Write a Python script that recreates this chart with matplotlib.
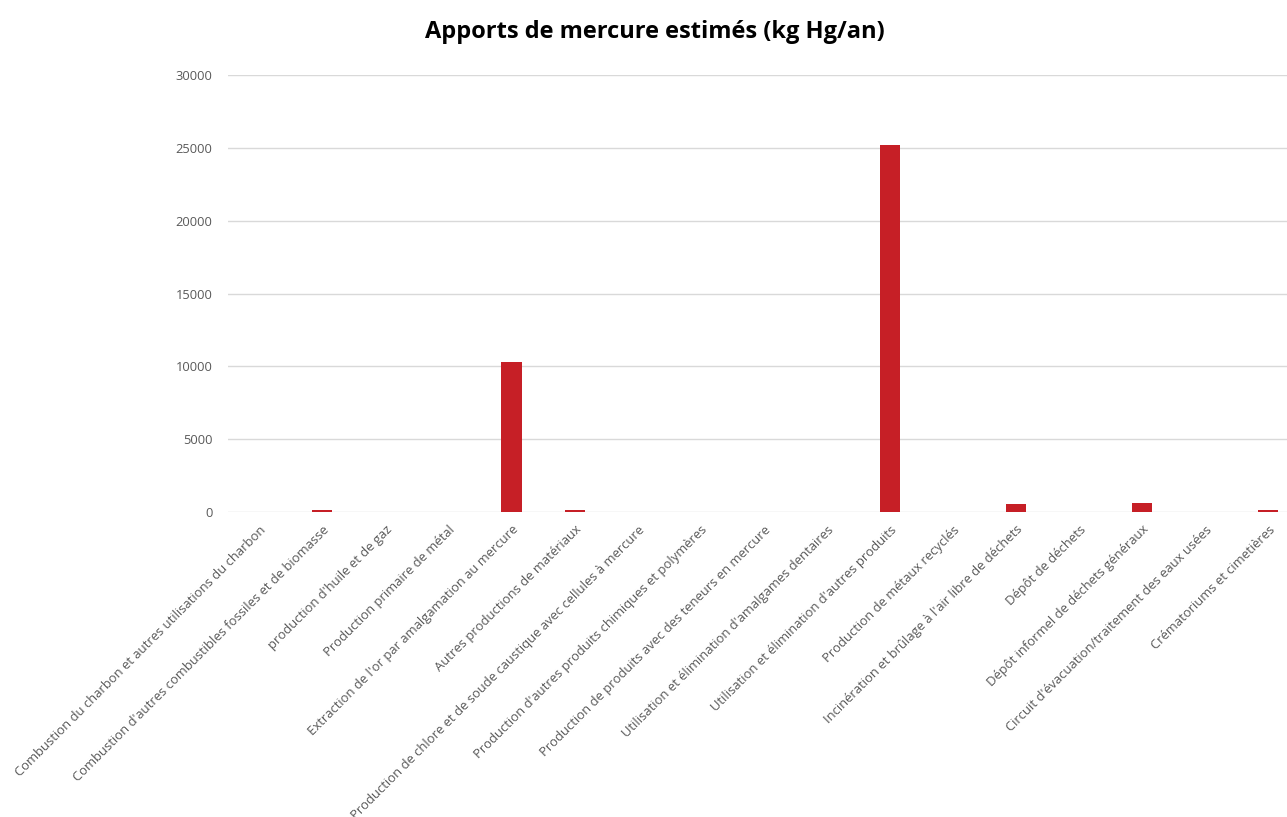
import matplotlib.pyplot as plt

# Catégories (sources de rejets) et apports estimés en kg Hg/an
categories = [
    "Combustion du charbon et autres utilisations du charbon",
    "Combustion d'autres combustibles fossiles et de biomasse",
    "production d'huile et de gaz",
    "Production primaire de métal",
    "Extraction de l'or par amalgamation au mercure",
    "Autres productions de matériaux",
    "Production de chlore et de soude caustique avec cellules à mercure",
    "Production d'autres produits chimiques et polymères",
    "Production de produits avec des teneurs en mercure",
    "Utilisation et élimination d'amalgames dentaires",
    "Utilisation et élimination d'autres produits",
    "Production de métaux recyclés",
    "Incinération et brûlage à l'air libre de déchets",
    "Dépôt de déchets",
    "Dépôt informel de déchets généraux",
    "Circuit d'évacuation/traitement des eaux usées",
    "Crématoriums et cimetières",
]
apports = [0, 150, 0, 0, 10300, 150, 0, 0, 0, 0, 25200, 0, 530, 0, 620, 0, 150]
yticks = [0, 5000, 10000, 15000, 20000, 25000, 30000]

plt.rcParams['font.family'] = ['Open Sans', 'DejaVu Sans']

fig = plt.figure(figsize=(12.87, 8.17), dpi=100)
ax = fig.add_axes([0.177, 0.3733, 0.833, 0.5347])

x = list(range(len(categories)))
ax.bar(x, apports, width=0.32, color="#C61F26", zorder=3)

# Axes et grille
ax.set_xlim(-0.5, len(categories) - 0.5)
ax.set_ylim(0, 30000)
ax.set_yticks(yticks)
ax.set_yticklabels([str(v) for v in yticks], fontsize=9.3, color="#595959")
ax.grid(axis="y", color="#D9D9D9", linewidth=1, zorder=0)
for s in ax.spines.values():
    s.set_visible(False)
ax.tick_params(axis="both", length=0)
ax.tick_params(axis="y", pad=11)

ax.set_xticks(x)
ax.set_xticklabels(categories, rotation=45, ha="right", va="top",
                   rotation_mode="anchor", fontsize=9.4, color="#595959")
ax.tick_params(axis="x", pad=8)

fig.suptitle("Apports de mercure estimés (kg Hg/an)", x=0.509, y=0.975,
             fontsize=17, fontweight="bold", color="black")

fig.savefig("out.png", dpi=100)
